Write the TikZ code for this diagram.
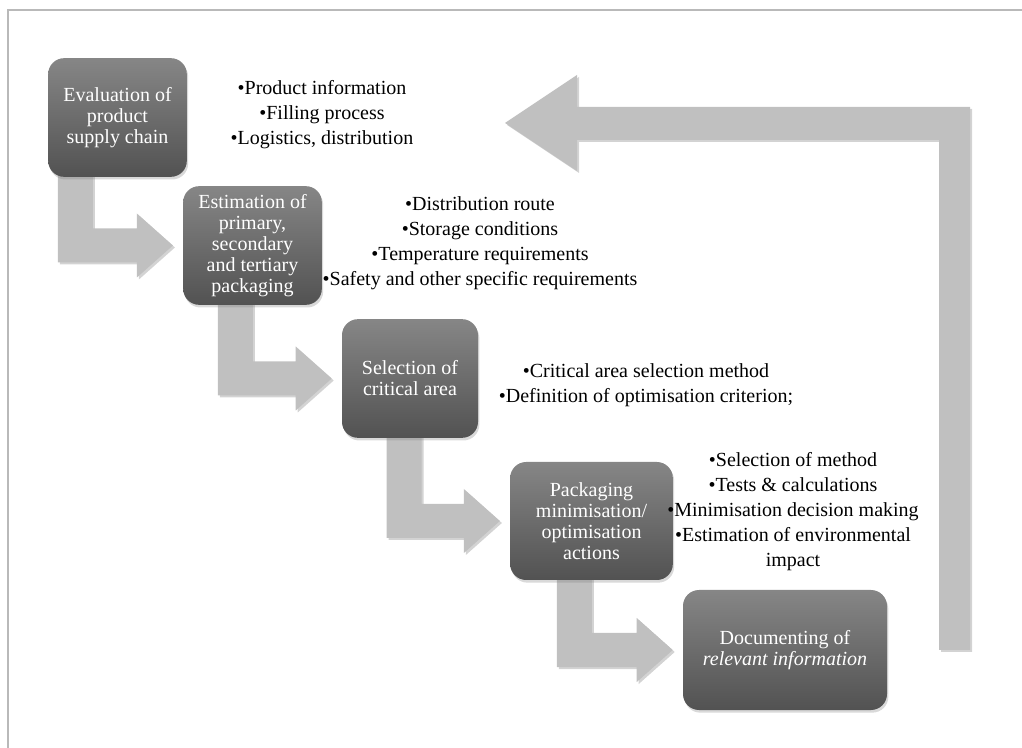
\documentclass[tikz,border=0pt]{standalone}
\usepackage{fontspec}
\setmainfont{Liberation Serif}
\usetikzlibrary{calc, shadows, backgrounds}

\definecolor{boxtop}{RGB}{134,134,134}
\definecolor{boxbot}{RGB}{82,82,82}
\definecolor{arrowgrey}{RGB}{192,192,192}
\definecolor{framegrey}{RGB}{185,185,185}

\newcommand{\boxfont}{\fontsize{15}{15.8}\selectfont}
\newcommand{\listfont}{\fontsize{15}{18.75}\selectfont}

% bent block arrow: #1 source box, #2 target box, #3 stem offset from source west
\newcommand{\bendarrow}[3]{%
  \coordinate (s) at ($(#1.south west)+(#3,-6)$);
  \coordinate (t) at ($(#2.west)+(-10,0)$);
  \fill[steparrow] (s) -- ++(35,0) |- ($(t)+(-36,-17)$) -- ++(0,-15) -- (t)
    -- ($(t)+(-36,32)$) -- ++(0,-15) -| (s) -- cycle;
}

\begin{document}
\begin{tikzpicture}[
    x=0.75pt, y=-0.75pt,
    stepbox/.style={rectangle, rounded corners=12pt, top color=boxtop, bottom color=boxbot,
      text=white, align=center, font=\boxfont, inner sep=2pt,
      drop shadow={shadow xshift=1pt, shadow yshift=-2pt, opacity=0.3}},
    steparrow/.style={fill=arrowgrey,
      drop shadow={shadow xshift=1.5pt, shadow yshift=-1.5pt, opacity=0.35}},
    bullets/.style={align=center, font=\listfont, inner sep=0pt}
]
\useasboundingbox (0,0) rectangle (1022,748);
\draw[framegrey, line width=1.5pt] (8,748) -- (8,10) -- (1022,10);

% boxes
\node[stepbox, minimum width=104pt, minimum height=89pt] (eval) at (117.5,117.5) {Evaluation of\\product\\supply chain};
\node[stepbox, minimum width=104pt, minimum height=89pt] (estim) at (252.5,245.5) {Estimation of\\primary,\\secondary\\and tertiary\\packaging};
\node[stepbox, minimum width=102pt, minimum height=89pt] (select) at (410,378.5) {Selection of\\critical area};
\node[stepbox, minimum width=122pt, minimum height=88.5pt] (minim) at (591.5,521) {Packaging\\minimisation/\\optimisation\\actions};
\node[stepbox, minimum width=153pt, minimum height=90pt] (docu) at (785,650) {Documenting of\\\textit{relevant information}};

% arrows between the boxes
\begin{scope}[on background layer]
\bendarrow{eval}{estim}{10}
\bendarrow{estim}{select}{35}
\bendarrow{select}{minim}{45}
\bendarrow{minim}{docu}{47}
\end{scope}

% return arrow
\coordinate (loopfoot) at (954.5,650);
\coordinate (looptip) at (505,123);
\fill[steparrow] ($(loopfoot)+(-15.5,0)$) -- ($(loopfoot)+(15.5,0)$) |- ($(looptip)+(72,-16)$)
  -- ++(0,-32) -- (looptip) -- ($(looptip)+(72,48)$) -- ++(0,-31)
  -| ($(loopfoot)+(-15.5,0)$) -- cycle;

% notes
\node[bullets] (evalnotes) at (322,115) {•Product information\\•Filling process\\•Logistics, distribution};
\node[bullets] (estimnotes) at (480,243) {•Distribution route\\•Storage conditions\\•Temperature requirements\\•Safety and other specific requirements};
\node[bullets] (selectnotes) at (646,385.5) {•Critical area selection method\\•Definition of optimisation criterion;};
\node[bullets] (minimnotes) at (793,512) {•Selection of method\\•Tests \& calculations\\•Minimisation decision making\\•Estimation of environmental\\impact};
\end{tikzpicture}
\end{document}
